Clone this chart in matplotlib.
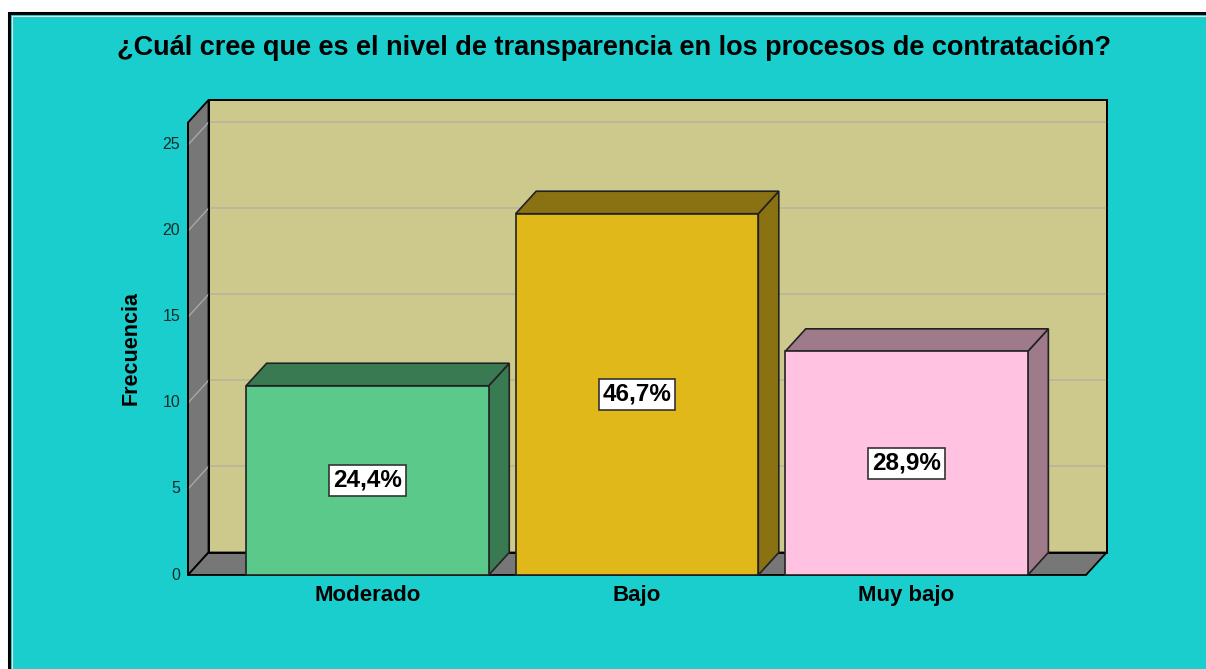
import matplotlib
matplotlib.use("Agg")
import matplotlib.pyplot as plt
from matplotlib.patches import Polygon, Rectangle

plt.rcParams['font.family'] = ['Liberation Sans', 'DejaVu Sans']

# ---- data ----
categories = ["Moderado", "Bajo", "Muy bajo"]
frequencies = [11, 21, 13]
percent_labels = ["24,4%", "46,7%", "28,9%"]
y_ticks = [0, 5, 10, 15, 20, 25]
title = "¿Cuál cree que es el nivel de transparencia en los procesos de contratación?"
y_label = "Frecuencia"

# ---- styling ----
W, H = 1206, 669
bg = "#1ACECE"
wall_back = "#CDC98C"
wall_side = "#777777"
grid_col = "#B8B59C"
face_cols = ["#5BC98A", "#E0B81A", "#FFC2E0"]
side_cols = ["#3A7A52", "#8A7212", "#9E7A8A"]
top_cols = ["#3A7A52", "#8A7212", "#9E7A8A"]

fig = plt.figure(figsize=(W / 100, H / 100), dpi=100)
fig.patch.set_facecolor("white")

# outer frame
frame_ax = fig.add_axes([0, 0, 1, 1])
frame_ax.set_xlim(0, W)
frame_ax.set_ylim(H, 0)
frame_ax.axis("off")
frame_ax.add_patch(Rectangle((9, 13), W + 20, H + 20, facecolor=bg,
                             edgecolor="black", lw=2.2, zorder=0))
frame_ax.add_patch(Rectangle((11.5, 15.5), W + 20, H + 20, facecolor="none",
                             edgecolor="#D8E8E8", lw=0.8, zorder=1))

# main plot area (front plane) in pixel geometry
px_left, px_right = 188, 1086
px_bottom, px_top = 575, 122
ax = fig.add_axes([px_left / W, (H - px_bottom) / H,
                   (px_right - px_left) / W, (px_bottom - px_top) / H])
bar_w = 0.9
pad = 0.2157
xmin, xmax = -0.5 + (1 - bar_w) / 2 - pad, len(categories) - 0.5 - (1 - bar_w) / 2 + pad
ymax = 26.33
ax.set_xlim(xmin, xmax)
ax.set_ylim(0, ymax)
ax.axis("off")

# depth offset (pixels -> data units)
dpx, dpy = 20.5, 22.5
xu = (xmax - xmin) / (px_right - px_left)   # data units per pixel (x)
ddx = dpx * xu
ddy = dpy * ymax / (px_bottom - px_top)
wall_top = 26.3

def P(pts, **kw):
    ax.add_patch(Polygon(pts, closed=True, clip_on=False, **kw))

# back wall
P([(xmin + ddx, ddy), (xmax + ddx, ddy), (xmax + ddx, ddy + wall_top),
   (xmin + ddx, ddy + wall_top)], facecolor=wall_back, edgecolor="black",
  lw=1.3, zorder=1)
# left side wall
P([(xmin, 0), (xmin + ddx, ddy), (xmin + ddx, ddy + wall_top), (xmin, wall_top)],
  facecolor=wall_side, edgecolor="black", lw=1.3, zorder=1)
# floor
P([(xmin, 0), (xmax, 0), (xmax + ddx, ddy), (xmin + ddx, ddy)],
  facecolor=wall_side, edgecolor="black", lw=1.3, zorder=1)

# grid lines
for t in y_ticks[1:]:
    ax.plot([xmin + ddx, xmax + ddx], [t + ddy, t + ddy], color=grid_col,
            lw=1.2, zorder=2, clip_on=False)
    ax.plot([xmin, xmin + ddx], [t, t + ddy], color="#A8A8A8", lw=1.0,
            zorder=2, clip_on=False)
# redraw back wall border on top
P([(xmin + ddx, ddy), (xmax + ddx, ddy), (xmax + ddx, ddy + wall_top),
   (xmin + ddx, ddy + wall_top)], facecolor="none", edgecolor="black",
  lw=1.3, zorder=2.5)

# tick labels
for t in y_ticks:
    ax.text(xmin - 8 * xu, t, str(t), ha="right", va="center", fontsize=11.5,
            color="#1a2a2a")

# bars
for i, (v, fc, sc, tc) in enumerate(zip(frequencies, face_cols, side_cols, top_cols)):
    x0, x1 = i - bar_w / 2, i + bar_w / 2
    # side
    P([(x1, 0), (x1 + ddx, ddy), (x1 + ddx, v + ddy), (x1, v)],
      facecolor=sc, edgecolor="#222222", lw=1.2, zorder=3)
    # top
    P([(x0, v), (x1, v), (x1 + ddx, v + ddy), (x0 + ddx, v + ddy)],
      facecolor=tc, edgecolor="#222222", lw=1.2, zorder=3)
    # front
    P([(x0, 0), (x1, 0), (x1, v), (x0, v)],
      facecolor=fc, edgecolor="#222222", lw=1.2, zorder=4)
    ax.text(i, v / 2, percent_labels[i], ha="center", va="center",
            fontsize=17.5, fontweight="bold", zorder=5,
            bbox=dict(boxstyle="square,pad=0.16", facecolor="white",
                      edgecolor="#333333", lw=1.2))
    ax.text(i, -1.2, categories[i], ha="center", va="center", fontsize=16,
            fontweight="bold")

# front axis line
ax.plot([xmin, xmin], [0, wall_top], color="black", lw=1.3, zorder=2.6,
        clip_on=False)

ax.text(xmin - 57 * xu, ymax * (575 - 348) / 453,
        y_label, rotation=90, ha="center", va="center", fontsize=15.5,
        fontweight="bold")

fig.text(614 / W, 1 - 48 / H, title, ha="center", va="center", fontsize=19.5,
         fontweight="bold")

fig.savefig("out.png", dpi=100, facecolor=fig.get_facecolor())
